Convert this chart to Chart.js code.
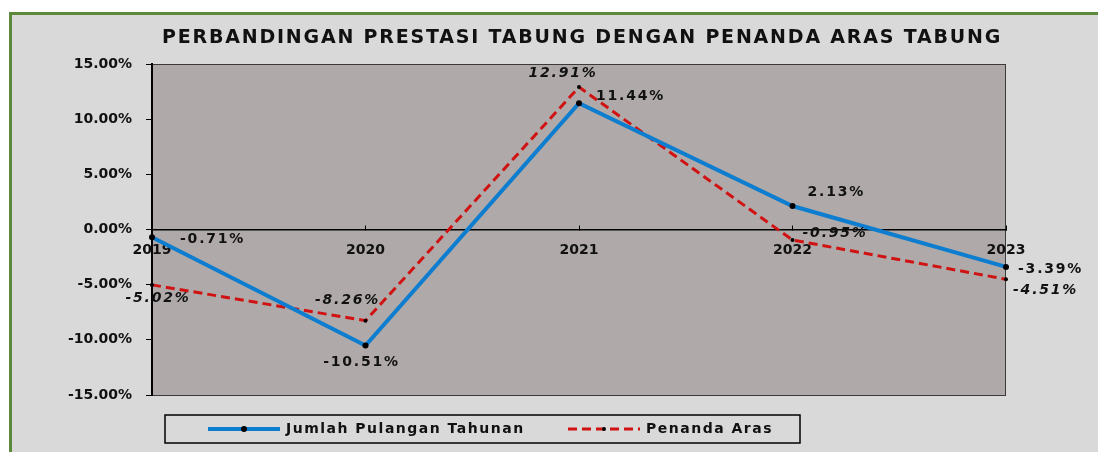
<!DOCTYPE html>
<html>
<head>
<meta charset="utf-8">
<script src="https://cdn.jsdelivr.net/npm/chart.js@4.4.1/dist/chart.umd.min.js"></script>
<style>
  html, body { margin: 0; padding: 0; background: #ffffff; }
  #frame {
    position: absolute; left: 9px; top: 12px; right: 0; bottom: 0;
    background: #d9d9d9;
    border-left: 3px solid #5b8a3c;
    border-top: 3px solid #5b8a3c;
  }
  #wrap { position: absolute; left: 0; top: 0; width: 1098px; height: 452px; }
</style>
</head>
<body>
<div id="frame"></div>
<div id="wrap"><canvas id="perbandinganChart"></canvas></div>
<script>
// tahun & pulangan (%)
const years = ['2019', '2020', '2021', '2022', '2023'];
const pulanganTahunan = [-0.71, -10.51, 11.44, 2.13, -3.39];
const penandaAras = [-5.02, -8.26, 12.91, -0.95, -4.51];
const yTicks = { min: -15, max: 15, step: 5 };

const FONT = '"DejaVu Sans", Verdana, sans-serif';

// where each value label sits next to its point: [dx, dy, align]
const labelSpots = [
    [[28, 2, 'left'], [-4, 17, 'center'], [17, -7, 'left'], [15, -14, 'left'], [12, 2, 'left']],
    [[6, 13, 'center'], [-18, -20, 'center'], [-16, -14, 'center'], [10, -7, 'left'], [7, 11, 'left']]
];

// gray plot area with thin frame
const plotBackground = {
    id: 'plotBackground',
    beforeDraw(chart) {
        const { ctx, chartArea: a } = chart;
        ctx.save();
        ctx.fillStyle = '#afaaa9';
        ctx.fillRect(a.left, a.top, a.right - a.left, a.bottom - a.top);
        ctx.strokeStyle = '#3a3a3a';
        ctx.lineWidth = 1;
        ctx.strokeRect(a.left + 0.5, a.top + 0.5, a.right - a.left - 1, a.bottom - a.top);
        ctx.restore();
    }
};

// title, value labels and boxed legend
const extras = {
    id: 'extras',
    afterDraw(chart) {
        const { ctx, chartArea: a } = chart;
        ctx.save();
        ctx.fillStyle = '#111';
        ctx.textBaseline = 'middle';

        // title
        ctx.font = 'bold 19px ' + FONT;
        ctx.letterSpacing = '1.8px';
        ctx.textAlign = 'center';
        ctx.fillText('PERBANDINGAN PRESTASI TABUNG DENGAN PENANDA ARAS TABUNG', (a.left + a.right) / 2 + 3, 38);

        // value labels
        ctx.letterSpacing = '1.8px';
        chart.data.datasets.forEach((ds, di) => {
            const meta = chart.getDatasetMeta(di);
            ctx.font = (di === 1 ? 'italic ' : '') + 'bold 14px ' + FONT;
            meta.data.forEach((pt, i) => {
                const [dx, dy, align] = labelSpots[di][i];
                ctx.textAlign = align;
                ctx.fillText(ds.data[i].toFixed(2) + '%', pt.x + dx, pt.y + dy);
            });
        });

        // legend
        const box = { x: 165, y: 415, w: 635, h: 28 };
        ctx.strokeStyle = '#000';
        ctx.lineWidth = 1.5;
        ctx.strokeRect(box.x, box.y, box.w, box.h);
        const cy = box.y + box.h / 2;
        const starts = [208, 568];
        ctx.font = 'bold 14px ' + FONT;
        ctx.textAlign = 'left';
        ctx.letterSpacing = '1.5px';
        chart.data.datasets.forEach((ds, di) => {
            const x0 = starts[di];
            ctx.beginPath();
            ctx.strokeStyle = ds.borderColor;
            ctx.lineWidth = ds.borderWidth;
            ctx.setLineDash(ds.borderDash || []);
            ctx.moveTo(x0, cy);
            ctx.lineTo(x0 + 72, cy);
            ctx.stroke();
            ctx.setLineDash([]);
            ctx.beginPath();
            ctx.fillStyle = '#000';
            ctx.arc(x0 + 36, cy, ds.pointRadius, 0, Math.PI * 2);
            ctx.fill();
            ctx.fillStyle = '#111';
            ctx.fillText(ds.label, x0 + 78, cy);
        });
        ctx.restore();
    }
};

const ctxPrestasi = document.getElementById('perbandinganChart').getContext('2d');
const perbandinganChart = new Chart(ctxPrestasi, {
    type: 'line',
    data: {
        labels: years,
        datasets: [
            {
                label: 'Jumlah Pulangan Tahunan',
                data: pulanganTahunan,
                borderColor: '#0d7dd0',
                borderWidth: 4,
                pointRadius: 3,
                pointBackgroundColor: '#000',
                pointBorderWidth: 0,
                tension: 0
            },
            {
                label: 'Penanda Aras',
                data: penandaAras,
                borderColor: '#d01212',
                borderWidth: 3,
                borderDash: [9, 5],
                pointRadius: 2,
                pointBackgroundColor: '#000',
                pointBorderWidth: 0,
                tension: 0
            }
        ]
    },
    options: {
        responsive: true,
        maintainAspectRatio: false,
        animation: false,
        layout: { padding: { top: 64, right: 92, bottom: 57, left: 0 } },
        plugins: {
            legend: { display: false },
            title: { display: false },
            tooltip: { enabled: false }
        },
        scales: {
            x: {
                position: { y: 0 },
                offset: false,
                grid: { drawOnChartArea: false, tickLength: -5, color: '#000' },
                border: { color: '#000', width: 1.5 },
                ticks: {
                    color: '#111',
                    font: { family: FONT, size: 14, weight: 'bold' },
                    padding: 17,
                    maxRotation: 0,
                    autoSkip: false
                }
            },
            y: {
                min: yTicks.min,
                max: yTicks.max,
                afterFit(scale) { scale.width = 152; },
                grid: { drawOnChartArea: false, tickLength: 6, color: '#000' },
                border: { color: '#000', width: 2 },
                ticks: {
                    stepSize: yTicks.step,
                    color: '#111',
                    padding: 14,
                    font: { family: FONT, size: 14, weight: 'bold' },
                    callback: v => v.toFixed(2) + '%'
                }
            }
        }
    },
    plugins: [plotBackground, extras]
});
</script>
</body>
</html>
